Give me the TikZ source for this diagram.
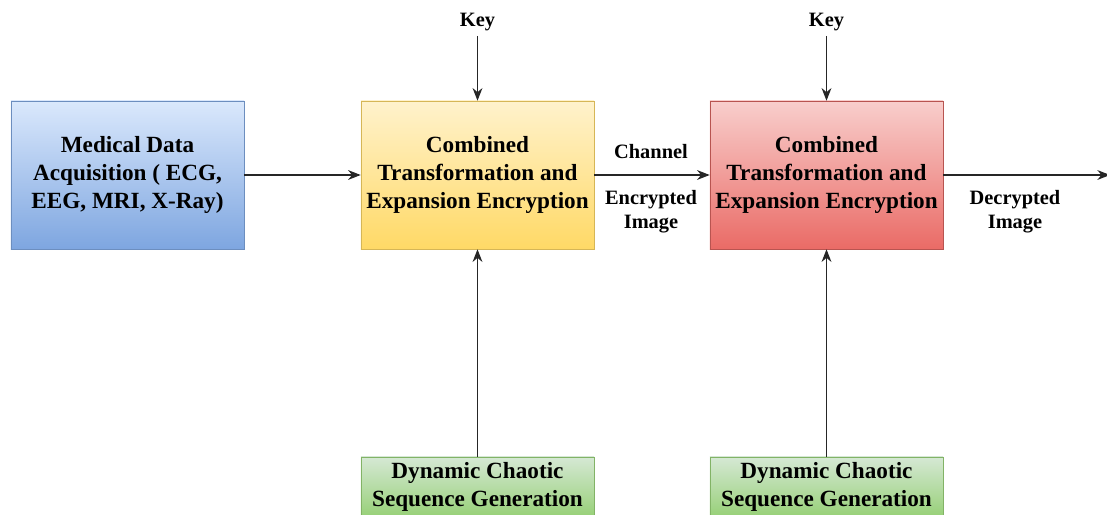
\documentclass[tikz,border=0pt]{standalone}
\usepackage{fontspec}
\setmainfont{Liberation Serif}
\usetikzlibrary{arrows.meta}

\definecolor{blueTop}{HTML}{DAE8FC}
\definecolor{blueBot}{HTML}{7EA6E0}
\definecolor{blueLine}{HTML}{6C8EBF}
\definecolor{yellowTop}{HTML}{FFF2CC}
\definecolor{yellowBot}{HTML}{FFD966}
\definecolor{yellowLine}{HTML}{D6B656}
\definecolor{redTop}{HTML}{F8CECC}
\definecolor{redBot}{HTML}{EA6B66}
\definecolor{redLine}{HTML}{B85450}
\definecolor{greenTop}{HTML}{D5E8D4}
\definecolor{greenBot}{HTML}{97D077}
\definecolor{greenLine}{HTML}{82B366}

\tikzset{
  block/.style={minimum width=5.825cm, minimum height=3.7cm, align=center,
    font=\fontsize{16.5}{20}\selectfont\bfseries, inner sep=0pt},
  genblock/.style={block, minimum height=1.5cm},
  lbl/.style={align=center, font=\fontsize{14.5}{17}\selectfont\bfseries},
  flow/.style={-{Stealth[length=9pt,width=7pt]}, line width=0.8pt, black!85}
}

\begin{document}
\begin{tikzpicture}[x=0.025cm, y=-0.025cm]
        \clip (0, 0) rectangle (1107, 514);

        % boxes
        \node[block, draw=blueLine, top color=blueTop, bottom color=blueBot] (acq) at (127.5, 175)
          {Medical Data\\Acquisition ( ECG,\\EEG, MRI, X-Ray)};
        \node[block, draw=yellowLine, top color=yellowTop, bottom color=yellowBot] (enc) at (477.5, 175)
          {Combined\\Transformation and\\Expansion Encryption};
        \node[block, draw=redLine, top color=redTop, bottom color=redBot] (dec) at (826.5, 175)
          {Combined\\Transformation and\\Expansion Encryption};
        \node[genblock, draw=greenLine, top color=greenTop, bottom color=greenBot] (genA) at (477.5, 487)
          {Dynamic Chaotic\\Sequence Generation};
        \node[genblock, draw=greenLine, top color=greenTop, bottom color=greenBot] (genB) at (826.5, 487)
          {Dynamic Chaotic\\Sequence Generation};

        % labels
        \node[lbl] (keyA) at (477.5, 22) {Key};
        \node[lbl] (keyB) at (826.5, 22) {Key};
        \node[lbl] (chan) at (651, 152) {Channel};
        \node[lbl] (encimg) at (651, 212) {Encrypted\\Image};
        \node[lbl] (decimg) at (1015, 212) {Decrypted\\Image};
        \coordinate (out) at (1110, 175);

        % connectors
        \draw[flow] (acq) -- (enc);
        \draw[flow] (enc) -- (dec);
        \draw[flow] (dec) -- (out);
        \draw[flow] (keyA) -- (enc);
        \draw[flow] (keyB) -- (dec);
        \draw[flow] (genA) -- (enc);
        \draw[flow] (genB) -- (dec);
      \end{tikzpicture}
\end{document}
